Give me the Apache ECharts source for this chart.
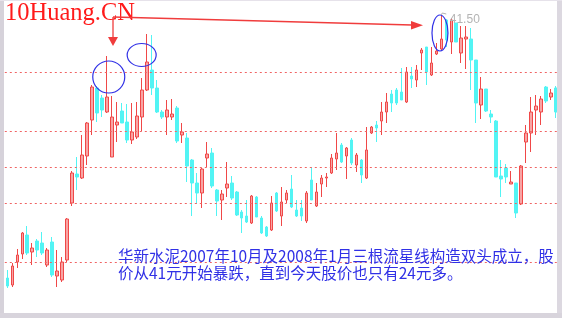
<!DOCTYPE html>
<html><head><meta charset="utf-8">
<script src="https://cdn.jsdelivr.net/npm/echarts@6/dist/echarts.min.js"></script>
<style>html,body{margin:0;padding:0;background:#fff;overflow:hidden}#c{width:562px;height:318px}</style>
</head><body><div id="c"></div>
<script>
// Daily prices
const opens = [15.2,14.5,16.8,17.6,19.5,17.8,18.9,18.7,16.5,18.8,15.4,15.0,17.0,22.7,25.6,25.2,27.4,31.0,34.2,33.2,
31.8,27.3,30.5,31.9,30.8,29.0,29.3,31.3,34.0,36.0,34.2,31.8,31.3,31.3,32.2,29.5,29.2,27.0,24.7,23.7,
27.2,27.7,24.0,23.0,24.2,24.7,23.8,21.8,21.4,20.7,23.3,21.2,20.3,20.0,23.7,21.4,23.0,24.1,22.0,22.2,
20.9,25.0,22.4,24.6,25.2,25.7,27.1,28.5,27.4,29.0,26.5,27.0,25.2,29.7,30.5,30.9,31.8,33.6,34.0,33.8,
32.8,35.4,35.0,37.7,38.3,35.5,37.6,38.1,41.0,38.8,40.7,37.7,39.1,39.1,37.0,32.5,34.1,31.6,30.9,25.4,
26.2,24.6,24.7,22.6,28.8,29.7,32.0,31.8,34.3,33.3,34.2];
const closes = [14.4,16.4,17.5,19.7,17.7,18.2,18.0,17.7,18.0,15.5,15.9,16.8,21.1,25.7,25.3,27.5,30.7,34.3,31.7,32.0,
33.3,31.3,30.8,30.7,29.0,29.8,31.4,34.0,36.8,34.2,31.8,31.3,32.0,31.6,28.9,29.8,26.4,24.7,23.7,26.1,
27.6,24.4,22.9,23.6,24.6,23.2,21.5,21.2,20.8,23.4,21.3,19.7,19.4,22.7,21.9,22.8,23.7,22.3,21.4,21.4,
23.7,23.0,23.8,25.2,25.3,27.2,27.7,26.8,28.2,26.7,27.5,25.5,28.0,30.3,30.2,31.8,32.8,32.7,32.7,33.0,
35.8,35.1,36.0,38.0,35.8,36.7,37.9,39.1,39.0,41.0,38.8,39.2,39.3,37.0,32.7,34.1,31.9,31.3,25.3,25.1,
25.3,24.8,21.7,26.4,29.7,31.8,32.4,33.1,32.9,33.7,31.8];
const lows = [14.2,14.3,16.2,17.1,17.5,16.5,17.3,17.5,16.3,15.3,14.3,14.8,16.8,22.4,24.0,25.1,26.5,29.5,30.8,31.3,
31.7,27.3,28.8,30.7,28.7,28.6,29.1,29.9,33.9,33.5,31.7,31.1,29.5,31.0,28.7,28.7,24.8,21.4,22.6,22.2,
26.3,24.2,21.4,21.0,23.3,23.0,21.4,19.7,20.7,20.6,21.3,19.6,19.3,19.9,21.8,20.4,22.7,22.2,21.3,20.9,
20.7,23.0,22.3,23.3,24.3,25.6,26.0,26.7,25.1,26.5,25.8,24.7,25.1,29.6,28.8,29.5,30.7,31.8,32.5,33.0,
32.7,34.2,34.3,36.0,34.5,35.4,37.5,38.0,38.3,37.6,38.8,36.7,36.1,34.0,30.7,31.1,31.8,30.7,25.3,23.3,
24.7,24.6,21.2,22.5,26.7,27.8,29.5,30.5,32.7,33.0,31.2];
const highs = [16.0,16.7,18.1,19.8,20.4,18.7,19.1,19.8,18.2,19.3,18.0,17.3,21.2,25.9,27.3,29.5,30.8,34.5,34.4,33.5,
37.4,33.4,32.8,32.7,32.6,32.7,32.8,35.2,39.6,39.5,35.0,32.0,33.0,33.1,32.4,30.7,29.7,27.1,25.7,26.2,
28.8,28.2,24.1,24.0,26.8,25.4,23.9,22.0,23.0,23.5,23.4,21.4,20.4,23.4,23.8,24.3,24.0,25.5,23.0,23.0,
23.9,26.3,24.7,25.5,25.7,27.6,29.7,28.7,28.3,29.2,27.7,27.1,30.3,30.4,30.9,32.8,33.7,34.0,34.2,36.2,
36.3,36.3,36.5,38.2,38.3,38.3,38.7,41.5,41.1,41.2,40.7,40.4,40.4,40.2,37.0,35.3,34.1,32.0,31.0,27.0,
26.6,25.9,24.7,26.5,30.5,33.3,33.5,33.4,34.4,34.1,34.4];
const gridLevels = [35.8, 29.9, 26.3, 22.7, 16.8];
const peakIndex = 87;
const peakLabel = '41.50';
const starIndexes = [20, 28, 87];
const watermark = '10Huang.CN';
const noteLines = ['华新水泥2007年10月及2008年1月三根流星线构造双头成立，股', '价从41元开始暴跌，直到今天股价也只有24元多。'];

const days = opens.map((_, i) => String(i + 1));
const kdata = opens.map((o, i) => [o, closes[i], lows[i], highs[i]]);

const chart = echarts.init(document.getElementById('c'), null, {renderer: 'canvas'});
chart.setOption({
  animation: false,
  backgroundColor: '#ffffff',
  grid: {left: 4.8, right: 3.5, top: 0, bottom: 0},
  xAxis: {type: 'category', data: days, boundaryGap: true, show: false},
  yAxis: {type: 'value', min: 11.2, max: 43, show: false, splitLine: {show: false}},
  series: [{
    type: 'candlestick',
    data: kdata,
    barWidth: 3,
    itemStyle: {
      color: '#f8a4a4', borderColor: '#f04848',
      color0: '#52f4f4', borderColor0: '#52f4f4',
      borderWidth: 1
    },
    markLine: {
      silent: true, symbol: ['none', 'none'], animation: false,
      label: {show: false},
      lineStyle: {color: '#f06464', type: [2, 3], width: 1},
      data: gridLevels.map(v => ({yAxis: v}))
    }
  }]
});

const px = (i, v) => chart.convertToPixel({gridIndex: 0}, [i, v]);
const c1 = px(starIndexes[0], 35.3);
const c2 = px(starIndexes[1], 37.5);
const c3 = px(starIndexes[2], 39.7);
const pk = px(peakIndex, highs[peakIndex]);
const blue = '#3030e6';
const red = '#f03c3c';

chart.setOption({
  graphic: [
    {type: 'text', left: 5, top: 1, z: 10, style: {text: watermark, fill: '#ff1a1a', font: '24.5px "Liberation Serif"'}},
    {type: 'polyline', z: 10, shape: {points: [[113, 17], [412, 25]]}, style: {stroke: red, lineWidth: 1.3, fill: null}},
    {type: 'polygon', z: 10, shape: {points: [[411, 21], [423, 25.3], [411, 29.5]]}, style: {fill: red}},
    {type: 'line', z: 10, shape: {x1: 113, y1: 17, x2: 113, y2: 38}, style: {stroke: red, lineWidth: 1.3}},
    {type: 'polygon', z: 10, shape: {points: [[108, 37], [118, 37], [113, 46]]}, style: {fill: red}},
    {type: 'ellipse', z: 10, shape: {cx: c1[0] + 1.7, cy: c1[1], rx: 16, ry: 16}, style: {stroke: blue, lineWidth: 1.2, fill: null}},
    {type: 'ellipse', z: 10, shape: {cx: c2[0] - 5.3, cy: c2[1], rx: 14.5, ry: 11.5}, style: {stroke: blue, lineWidth: 1.2, fill: null}},
    {type: 'ellipse', z: 10, shape: {cx: c3[0] - 1.3, cy: c3[1], rx: 8, ry: 18}, style: {stroke: blue, lineWidth: 1.2, fill: null}},
    {type: 'polyline', z: 10, shape: {points: [[pk[0], pk[1]], [pk[0] + 1, pk[1] - 2], [pk[0] + 5, pk[1] - 1]]}, style: {stroke: '#b4b4b4', lineWidth: 1, fill: null}},
    {type: 'text', z: 10, left: pk[0] + 8.5, top: pk[1] - 1, style: {text: peakLabel, fill: '#b4b4b4', font: '12px "Liberation Sans"'}},
    {type: 'text', z: 10, left: 118, top: 248, style: {text: noteLines[0], fill: blue, font: '15.5px "Noto Sans CJK SC"'}},
    {type: 'text', z: 10, left: 118, top: 265, style: {text: noteLines[1], fill: blue, font: '15.5px "Noto Sans CJK SC"'}},
    {type: 'rect', z: 20, shape: {x: 0, y: 0, width: 4, height: 318}, style: {fill: '#d6d2da'}},
    {type: 'rect', z: 20, shape: {x: 557, y: 0, width: 5, height: 318}, style: {fill: '#dcd8e0'}},
    {type: 'rect', z: 20, shape: {x: 0, y: 313, width: 562, height: 5}, style: {fill: '#d8d4dc'}},
    {type: 'rect', z: 20, shape: {x: 0, y: 0, width: 562, height: 1}, style: {fill: '#e6e2ea'}}
  ]
});
</script></body></html>
